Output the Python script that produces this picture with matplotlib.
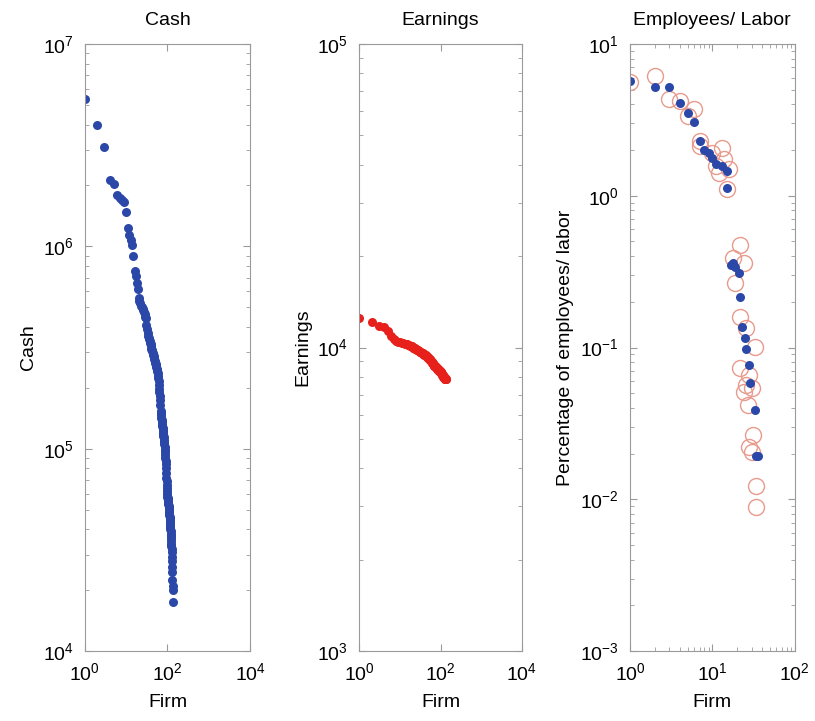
import numpy as np
import matplotlib
matplotlib.use('Agg')
from matplotlib import pyplot as plt
from matplotlib.ticker import LogLocator, NullLocator

plt.rcParams['font.family'] = ['Liberation Sans', 'DejaVu Sans']
plt.rcParams['mathtext.fontset'] = 'custom'
plt.rcParams['mathtext.rm'] = 'Liberation Sans'

# Cash, ranked (firm 1..135)
cash = [5.35e6, 3.98e6, 3.10e6, 2.13e6, 2.03e6, 1.80e6, 1.74e6, 1.70e6, 1.65e6, 1.48e6,
        1.23e6, 1.14e6, 1.08e6, 1.01e6, 8.93e5, 7.59e5, 7.11e5, 6.59e5, 6.12e5, 5.56e5,
        5.36e5, 5.25e5, 5.10e5, 5.00e5, 4.90e5, 4.82e5, 4.75e5, 4.62e5, 4.50e5, 4.44e5,
        4.10e5, 3.90e5, 3.75e5, 3.62e5, 3.54e5, 3.48e5, 3.40e5, 3.33e5, 3.29e5, 3.20e5,
        3.12e5, 3.08e5, 3.04e5, 2.98e5, 2.92e5, 2.87e5, 2.82e5, 2.77e5, 2.72e5, 2.68e5,
        2.65e5, 2.62e5, 2.57e5, 2.52e5, 2.48e5, 2.45e5, 2.42e5, 2.36e5, 2.30e5, 2.24e5,
        2.15e5, 2.06e5, 1.98e5, 1.90e5, 1.82e5, 1.74e5, 1.64e5, 1.54e5, 1.50e5, 1.46e5,
        1.42e5, 1.39e5, 1.36e5, 1.33e5, 1.30e5, 1.27e5, 1.24e5, 1.21e5, 1.18e5, 1.16e5,
        1.14e5, 1.11e5, 1.08e5, 1.05e5, 1.02e5, 9.9e4, 9.6e4, 9.3e4, 9.0e4, 8.7e4,
        8.4e4, 8.0e4, 7.6e4, 7.2e4, 6.9e4, 6.6e4, 6.4e4, 6.2e4, 6.0e4, 5.8e4,
        5.7e4, 5.6e4, 5.5e4, 5.4e4, 5.3e4, 5.2e4, 5.1e4, 5.0e4, 4.9e4, 4.8e4,
        4.7e4, 4.6e4, 4.5e4, 4.4e4, 4.3e4, 4.2e4, 4.1e4, 4.0e4, 3.9e4, 3.8e4,
        3.7e4, 3.6e4, 3.5e4, 3.4e4, 3.3e4, 3.2e4, 3.1e4, 2.9e4, 2.8e4, 2.6e4,
        2.45e4, 2.24e4, 2.1e4, 2.0e4, 1.75e4]

# Earnings, ranked (firm 1..134)
earnings = [12500, 12100, 11800, 11700, 11300, 10900, 10700, 10500, 10450, 10400,
            10350, 10320, 10300, 10270, 10240, 10210, 10180, 10150, 10120, 10080,
            10000, 9970, 9940, 9910, 9880, 9850, 9820, 9790, 9760, 9730,
            9700, 9680, 9650, 9600, 9580, 9560, 9540, 9520, 9500, 9480,
            9460, 9440, 9420, 9400, 9370, 9340, 9310, 9280, 9250, 9220,
            9200, 9180, 9160, 9150, 9120, 9090, 9060, 9030, 9000, 8980,
            8950, 8930, 8900, 8880, 8850, 8820, 8800, 8770, 8750, 8720,
            8700, 8690, 8680, 8670, 8660, 8650, 8630, 8610, 8600, 8580,
            8560, 8540, 8520, 8500, 8490, 8480, 8470, 8460, 8450, 8440,
            8430, 8420, 8400, 8390, 8380, 8370, 8360, 8350, 8340, 8330,
            8310, 8290, 8270, 8250, 8230, 8210, 8190, 8170, 8150, 8130,
            8110, 8090, 8070, 8060, 8050, 8040, 8030, 8020, 8010, 8000,
            7990, 7980, 7970, 7960, 7950, 7940, 7930, 7920, 7910, 7905,
            7900, 7895, 7890, 7880]

# Employees/ labor: two series (filled blue, open red)
emp_blue_x = [1, 2, 3, 4, 5, 6, 7, 8, 9, 10, 11, 13, 15, 15,
              17, 18, 19, 21, 22, 23, 25, 26, 28, 29, 33, 34, 36]
emp_blue_y = [5.7, 5.17, 5.17, 4.07, 3.53, 3.08, 2.30, 2.0, 1.92, 1.78, 1.61, 1.57, 1.45, 1.12,
              0.35, 0.36, 0.34, 0.31, 0.215, 0.137, 0.115, 0.098, 0.077, 0.0585, 0.039, 0.0193, 0.0193]
emp_red_x = [1, 2, 3, 4, 5, 6, 7, 7, 10, 13, 14, 11, 16, 12, 15,
             22, 18, 24, 19, 22, 26, 33, 22, 28, 26, 24, 30, 27, 31, 28, 30, 34, 34]
emp_red_y = [5.58, 6.18, 4.33, 4.22, 3.36, 3.72, 2.13, 2.30, 1.92, 2.07, 1.74, 1.57, 1.49, 1.42, 1.10,
             0.476, 0.389, 0.36, 0.266, 0.16, 0.134, 0.101, 0.073, 0.066, 0.0565, 0.051, 0.054,
             0.0417, 0.0264, 0.0221, 0.0205, 0.0123, 0.00885]

blue = '#2b48a8'
red = '#e8201c'
pink = '#e89a8c'
spine = '#9a9a9a'

fig = plt.figure(figsize=(8.15, 7.21), dpi=100)
ax1 = fig.add_axes([0.104, 0.097, 0.203, 0.842])
ax2 = fig.add_axes([0.441, 0.097, 0.199, 0.842])
ax3 = fig.add_axes([0.773, 0.097, 0.202, 0.842])

ax1.plot(np.arange(1, len(cash) + 1), cash, 'o', color=blue, ms=6.5, mec='none')
ax2.plot(np.arange(1, len(earnings) + 1), earnings, 'o', color=red, ms=6.5, mec='none')
ax3.plot(emp_red_x, emp_red_y, 'o', mfc='none', mec=pink, ms=11.5, mew=1.0)
ax3.plot(emp_blue_x, emp_blue_y, 'o', color=blue, ms=6.5, mec='none')

for ax in (ax1, ax2, ax3):
    ax.set_xscale('log')
    ax.set_yscale('log')
    for s in ax.spines.values():
        s.set_color(spine)
    ax.tick_params(which='both', direction='in', top=True, right=True, color=spine,
                   labelsize=14, pad=8)
    ax.tick_params(which='major', length=5)
    ax.tick_params(which='minor', length=3)
    ax.set_xlabel('Firm', fontsize=14, labelpad=7)

ax1.set_xlim(1, 1e4)
ax1.set_ylim(1e4, 1e7)
ax1.set_xticks([1, 1e2, 1e4])
ax1.xaxis.set_minor_locator(NullLocator())
ax1.set_title('Cash', fontsize=14, pad=14)
ax1.set_ylabel('Cash', fontsize=14)

ax2.set_xlim(1, 1e4)
ax2.set_ylim(1e3, 1e5)
ax2.set_xticks([1, 1e2, 1e4])
ax2.xaxis.set_minor_locator(NullLocator())
ax2.set_title('Earnings', fontsize=14, pad=14)
ax2.set_ylabel('Earnings', fontsize=14)

ax3.set_xlim(1, 1e2)
ax3.set_ylim(1e-3, 1e1)
ax3.xaxis.set_minor_locator(LogLocator(subs=np.arange(2, 10)))
ax3.set_title('Employees/ Labor', fontsize=14, pad=14)
ax3.set_ylabel('Percentage of employees/ labor', fontsize=14)

for ax in (ax1, ax2, ax3):
    ax.yaxis.set_minor_locator(LogLocator(subs=np.arange(2, 10)))

fig.savefig('out.png', dpi=100)
